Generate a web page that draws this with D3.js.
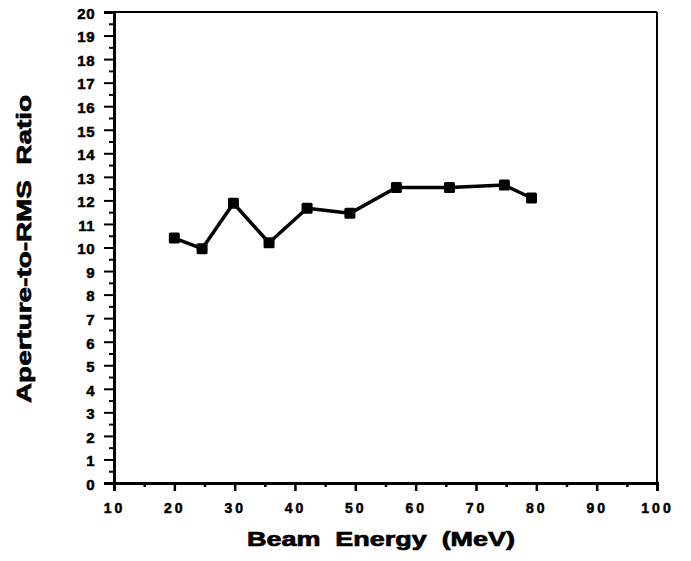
<!DOCTYPE html>
<html><head><meta charset="utf-8">
<script src="https://cdn.jsdelivr.net/npm/d3@7"></script>
<style>body{margin:0;background:#fff}text{font-family:"Liberation Sans",Arial,sans-serif;font-weight:bold;fill:#000}</style>
</head><body><svg id="c" width="691" height="561"></svg>
<script>
const energy = [20.0, 24.6, 29.8, 35.7, 42.0, 49.1, 56.8, 65.6, 74.7, 79.2];
const ratio  = [10.4, 9.95, 11.88, 10.2, 11.67, 11.45, 12.55, 12.55, 12.65, 12.1];
const xTicks = [10,20,30,40,50,60,70,80,90,100];
const yTicks = d3.range(0,21);
const xTitle = "Beam  Energy  (MeV)";
const yTitle = "Aperture-to-RMS  Ratio";

const svg = d3.select("#c");
const L=114,R=657,T=12,B=483;
const x = d3.scaleLinear().domain([10,100]).range([L,R]);
const y = d3.scaleLinear().domain([0,20]).range([B,T]);

// frame
svg.append("line").attr("x1",L).attr("x2",R).attr("y1",T).attr("y2",T).attr("stroke","#000").attr("stroke-width",2);
svg.append("line").attr("x1",R).attr("x2",R).attr("y1",T).attr("y2",B).attr("stroke","#000").attr("stroke-width",2);

// x axis
const xa = svg.append("g").attr("transform",`translate(0,${B})`)
  .call(d3.axisBottom(x).tickValues(xTicks).tickSize(8).tickPadding(12).tickFormat(d3.format("d")));
xa.select(".domain").attr("stroke-width",3);
xa.selectAll(".tick line").attr("stroke-width",2.5);
xa.selectAll(".tick text").attr("font-size",14).attr("letter-spacing","3px").attr("font-family","Liberation Sans, Arial").attr("font-weight","bold")
  .attr("stroke","#000").attr("stroke-width",0.5);
svg.append("g").attr("transform",`translate(0,${B})`)
  .call(d3.axisBottom(x).tickValues(d3.range(15,100,10)).tickSize(4).tickFormat(""))
  .call(g=>g.select(".domain").remove()).selectAll("line").attr("stroke-width",2.5);

// y axis
const ya = svg.append("g").attr("transform",`translate(${L},0)`)
  .call(d3.axisLeft(y).tickValues(yTicks).tickSize(10).tickPadding(9).tickFormat(d3.format("d")));
ya.select(".domain").attr("stroke-width",3);
ya.selectAll(".tick line").attr("stroke-width",2);
ya.selectAll(".tick text").attr("font-size",15).attr("letter-spacing","0.5px").attr("dy","0.42em").attr("font-family","Liberation Sans, Arial").attr("font-weight","bold")
  .attr("stroke","#000").attr("stroke-width",0.5);
svg.append("g").attr("transform",`translate(${L},0)`)
  .call(d3.axisLeft(y).tickValues(d3.range(0.5,20,1)).tickSize(5).tickFormat(""))
  .call(g=>g.select(".domain").remove()).selectAll("line").attr("stroke-width",2);

// line
const pts = energy.map((e,i)=>[e,ratio[i]]);
svg.append("path").datum(pts)
  .attr("d",d3.line().x(d=>x(d[0])).y(d=>y(d[1])))
  .attr("fill","none").attr("stroke","#000").attr("stroke-width",3.5).attr("stroke-linejoin","round");
svg.append("g").selectAll("rect").data(pts).join("rect")
  .attr("x",d=>x(d[0])-5.5).attr("y",d=>y(d[1])-5.5).attr("width",11).attr("height",11).attr("rx",1.5).attr("fill","#000");

// titles
svg.append("text").attr("x",381).attr("y",546).attr("text-anchor","middle")
  .attr("font-size",20).attr("textLength",268).attr("lengthAdjust","spacingAndGlyphs")
  .attr("stroke","#000").attr("stroke-width",0.7)
  .style("white-space","pre").text(xTitle);
svg.append("text").attr("transform","translate(31,249) rotate(-90)").attr("text-anchor","middle")
  .attr("font-size",21).attr("textLength",308).attr("lengthAdjust","spacingAndGlyphs")
  .attr("stroke","#000").attr("stroke-width",0.7)
  .style("white-space","pre").text(yTitle);
</script></body></html>
